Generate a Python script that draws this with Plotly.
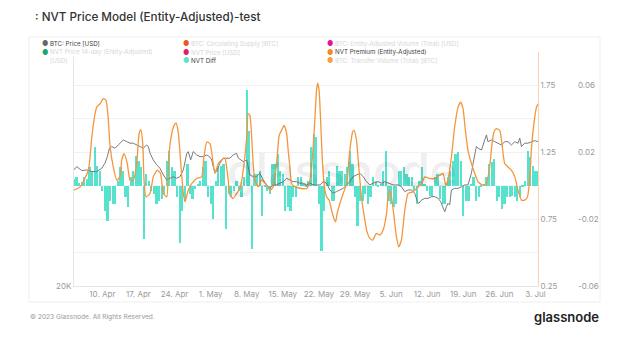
import plotly.graph_objects as go
import pandas as pd

# ---------------- data ----------------
premium_dates = [
    "2023-04-04 12:00", "2023-04-05 16:00", "2023-04-07 07:00", "2023-04-07 23:00", "2023-04-08 14:00",
    "2023-04-08 22:00", "2023-04-09 13:00", "2023-04-10 05:00", "2023-04-10 17:00", "2023-04-11 04:00",
    "2023-04-11 12:00", "2023-04-12 03:00", "2023-04-12 19:00", "2023-04-13 10:00", "2023-04-13 18:00",
    "2023-04-14 05:00", "2023-04-14 20:00", "2023-04-15 09:00", "2023-04-16 00:00", "2023-04-16 16:00",
    "2023-04-17 03:00", "2023-04-17 11:00", "2023-04-17 20:00", "2023-04-18 02:00", "2023-04-18 11:00",
    "2023-04-19 06:00", "2023-04-19 21:00", "2023-04-20 16:00", "2023-04-21 07:00", "2023-04-21 20:00",
    "2023-04-22 12:00", "2023-04-22 21:00", "2023-04-23 11:00", "2023-04-23 22:00", "2023-04-24 07:00",
    "2023-04-24 18:00", "2023-04-25 05:00", "2023-04-25 17:00", "2023-04-26 01:00", "2023-04-26 16:00",
    "2023-04-27 08:00", "2023-04-28 07:00", "2023-04-29 06:00", "2023-04-29 17:00", "2023-04-30 06:00",
    "2023-04-30 21:00", "2023-05-01 10:00", "2023-05-01 20:00", "2023-05-02 12:00", "2023-05-03 11:00",
    "2023-05-03 19:00", "2023-05-04 10:00", "2023-05-04 18:00", "2023-05-05 09:00", "2023-05-06 01:00",
    "2023-05-06 17:00", "2023-05-07 08:00", "2023-05-08 00:00", "2023-05-08 07:00", "2023-05-08 15:00",
    "2023-05-08 23:00", "2023-05-09 06:00", "2023-05-09 14:00", "2023-05-10 06:00", "2023-05-10 21:00",
    "2023-05-11 21:00", "2023-05-12 12:00", "2023-05-13 03:00", "2023-05-13 19:00", "2023-05-14 07:00",
    "2023-05-14 18:00", "2023-05-15 06:00", "2023-05-15 18:00", "2023-05-16 01:00", "2023-05-16 09:00",
    "2023-05-16 17:00", "2023-05-17 08:00", "2023-05-18 15:00", "2023-05-19 15:00", "2023-05-20 06:00",
    "2023-05-20 18:00", "2023-05-21 05:00", "2023-05-21 13:00", "2023-05-21 18:00", "2023-05-22 01:00",
    "2023-05-22 08:00", "2023-05-22 17:00", "2023-05-23 04:00", "2023-05-23 12:00", "2023-05-24 00:00",
    "2023-05-24 11:00", "2023-05-24 22:00", "2023-05-25 06:00", "2023-05-25 13:00", "2023-05-26 02:00",
    "2023-05-26 17:00", "2023-05-27 09:00", "2023-05-28 00:00", "2023-05-28 13:00", "2023-05-28 20:00",
    "2023-05-29 07:00", "2023-05-29 19:00", "2023-05-30 06:00", "2023-05-30 17:00", "2023-05-31 06:00",
    "2023-05-31 21:00", "2023-06-01 10:00", "2023-06-02 04:00", "2023-06-02 20:00", "2023-06-03 11:00",
    "2023-06-04 03:00", "2023-06-04 10:00", "2023-06-04 18:00", "2023-06-05 02:00", "2023-06-05 14:00",
    "2023-06-06 01:00", "2023-06-06 12:00", "2023-06-07 00:00", "2023-06-07 16:00", "2023-06-08 07:00",
    "2023-06-09 06:00", "2023-06-10 06:00", "2023-06-10 22:00", "2023-06-11 13:00", "2023-06-12 12:00",
    "2023-06-13 12:00", "2023-06-14 11:00", "2023-06-15 02:00", "2023-06-15 15:00", "2023-06-16 01:00",
    "2023-06-16 17:00", "2023-06-17 08:00", "2023-06-18 00:00", "2023-06-18 12:00", "2023-06-18 23:00",
    "2023-06-19 10:00", "2023-06-19 22:00", "2023-06-20 14:00", "2023-06-21 06:00", "2023-06-21 21:00",
    "2023-06-22 20:00", "2023-06-23 12:00", "2023-06-24 03:00", "2023-06-24 14:00", "2023-06-24 23:00",
    "2023-06-25 10:00", "2023-06-26 02:00", "2023-06-26 12:00", "2023-06-27 01:00", "2023-06-27 16:00",
    "2023-06-28 08:00", "2023-06-29 00:00", "2023-06-29 15:00", "2023-06-30 07:00", "2023-06-30 22:00",
    "2023-07-01 11:00", "2023-07-01 21:00", "2023-07-02 05:00", "2023-07-02 17:00", "2023-07-03 05:00",
    "2023-07-03 12:00",
]
premium_values = [
    0.966, 0.991, 1.116, 1.364, 1.539, 1.588, 1.613, 1.651, 1.638, 1.489,
    1.29, 1.14, 1.041, 1.066, 1.19, 1.24, 1.166, 1.041, 1.041, 1.166,
    1.39, 1.42, 1.315, 1.041, 0.916, 0.942, 1.066, 1.116, 1.091, 0.942,
    0.916, 1.215, 1.39, 1.451, 1.469, 1.39, 1.166, 0.942, 0.879, 0.966,
    1.016, 1.054, 1.066, 1.215, 1.327, 1.315, 1.19, 1.091, 1.166, 1.203,
    1.203, 1.041, 0.929, 0.904, 0.942, 0.979, 1.116, 1.364, 1.539, 1.526,
    1.364, 1.166, 1.041, 0.991, 1.041, 1.004, 0.966, 0.991, 1.166, 1.377,
    1.414, 1.451, 1.39, 1.265, 1.14, 1.016, 0.991, 0.979, 0.979, 1.041,
    1.215, 1.489, 1.713, 1.767, 1.713, 1.489, 1.166, 0.966, 0.916, 0.892,
    0.817, 0.755, 0.73, 0.793, 0.867, 0.942, 1.016, 1.265, 1.401, 1.414,
    1.34, 1.116, 0.916, 0.793, 0.668, 0.606, 0.593, 0.643, 0.631, 0.668,
    0.793, 0.916, 0.966, 0.916, 0.767, 0.618, 0.543, 0.593, 0.817, 0.942,
    0.954, 0.991, 1.016, 1.066, 1.054, 1.054, 1.078, 1.091, 1.004, 1.041,
    1.215, 1.439, 1.588, 1.625, 1.576, 1.414, 1.265, 1.166, 1.091, 1.028,
    1.004, 1.016, 1.14, 1.315, 1.401, 1.427, 1.414, 1.315, 1.166, 1.14,
    1.116, 1.066, 0.966, 0.892, 0.892, 0.916, 1.041, 1.265, 1.464, 1.588,
    1.613,
]

price_dates = [
    "2023-04-04 12:00", "2023-04-05 01:00", "2023-04-06 00:00", "2023-04-07 00:00", "2023-04-07 23:00",
    "2023-04-08 22:00", "2023-04-09 21:00", "2023-04-10 12:00", "2023-04-10 23:00", "2023-04-11 09:00",
    "2023-04-11 20:00", "2023-04-12 11:00", "2023-04-13 02:00", "2023-04-13 18:00", "2023-04-14 02:00",
    "2023-04-14 18:00", "2023-04-15 09:00", "2023-04-16 00:00", "2023-04-16 16:00", "2023-04-17 07:00",
    "2023-04-17 23:00", "2023-04-18 14:00", "2023-04-18 22:00", "2023-04-19 06:00", "2023-04-19 21:00",
    "2023-04-20 13:00", "2023-04-21 04:00", "2023-04-21 20:00", "2023-04-22 12:00", "2023-04-23 03:00",
    "2023-04-23 18:00", "2023-04-24 10:00", "2023-04-25 01:00", "2023-04-25 17:00", "2023-04-26 09:00",
    "2023-04-26 16:00", "2023-04-27 03:00", "2023-04-27 15:00", "2023-04-28 07:00", "2023-04-28 22:00",
    "2023-04-29 14:00", "2023-04-30 06:00", "2023-04-30 21:00", "2023-05-01 05:00", "2023-05-01 16:00",
    "2023-05-02 04:00", "2023-05-02 19:00", "2023-05-03 11:00", "2023-05-04 03:00", "2023-05-04 18:00",
    "2023-05-05 09:00", "2023-05-06 01:00", "2023-05-06 09:00", "2023-05-06 20:00", "2023-05-07 08:00",
    "2023-05-08 00:00", "2023-05-08 07:00", "2023-05-08 15:00", "2023-05-09 06:00", "2023-05-09 22:00",
    "2023-05-10 13:00", "2023-05-10 21:00", "2023-05-11 05:00", "2023-05-11 21:00", "2023-05-12 12:00",
    "2023-05-13 03:00", "2023-05-13 19:00", "2023-05-14 11:00", "2023-05-15 02:00", "2023-05-15 18:00",
    "2023-05-16 09:00", "2023-05-17 00:00", "2023-05-17 16:00", "2023-05-18 07:00", "2023-05-18 23:00",
    "2023-05-19 15:00", "2023-05-20 06:00", "2023-05-20 21:00", "2023-05-21 13:00", "2023-05-22 05:00",
    "2023-05-22 20:00", "2023-05-23 12:00", "2023-05-24 03:00", "2023-05-24 18:00", "2023-05-25 10:00",
    "2023-05-26 02:00", "2023-05-26 17:00", "2023-05-27 09:00", "2023-05-28 00:00", "2023-05-28 15:00",
    "2023-05-29 07:00", "2023-05-29 23:00", "2023-05-30 14:00", "2023-05-31 06:00", "2023-05-31 21:00",
    "2023-06-01 12:00", "2023-06-02 12:00", "2023-06-03 04:00", "2023-06-03 19:00", "2023-06-04 10:00",
    "2023-06-05 10:00", "2023-06-06 09:00", "2023-06-07 00:00", "2023-06-07 16:00", "2023-06-08 07:00",
    "2023-06-08 23:00", "2023-06-09 14:00", "2023-06-10 03:00", "2023-06-10 09:00", "2023-06-10 22:00",
    "2023-06-11 13:00", "2023-06-12 04:00", "2023-06-12 20:00", "2023-06-13 12:00", "2023-06-14 03:00",
    "2023-06-14 15:00", "2023-06-15 02:00", "2023-06-15 10:00", "2023-06-15 18:00", "2023-06-16 01:00",
    "2023-06-16 09:00", "2023-06-16 17:00", "2023-06-17 08:00", "2023-06-18 00:00", "2023-06-18 16:00",
    "2023-06-19 07:00", "2023-06-19 22:00", "2023-06-20 14:00", "2023-06-20 22:00", "2023-06-21 06:00",
    "2023-06-21 13:00", "2023-06-21 21:00", "2023-06-22 13:00", "2023-06-23 04:00", "2023-06-23 12:00",
    "2023-06-23 19:00", "2023-06-24 11:00", "2023-06-25 03:00", "2023-06-25 18:00", "2023-06-26 10:00",
    "2023-06-27 01:00", "2023-06-27 16:00", "2023-06-28 08:00", "2023-06-29 00:00", "2023-06-29 15:00",
    "2023-06-29 23:00", "2023-06-30 07:00", "2023-06-30 22:00", "2023-07-01 13:00", "2023-07-02 05:00",
    "2023-07-02 21:00", "2023-07-03 12:00",
]
price_values = [
    28210, 28490, 28150, 28210, 28070, 28070, 28350, 28770, 29340, 30080,
    30230, 30080, 30370, 30670, 30830, 30670, 30530, 30530, 30370, 30230,
    30080, 30370, 30230, 29630, 29050, 28630, 28350, 27790, 27380, 27520,
    27650, 27520, 27650, 28210, 29630, 29780, 29050, 29780, 29490, 29340,
    29340, 29490, 29290, 29050, 28210, 28070, 28770, 29210, 29210, 29200,
    29490, 29630, 29210, 29050, 28910, 29050, 28490, 27790, 27650, 27650,
    27930, 27650, 27380, 26980, 26710, 26980, 26980, 27120, 27240, 27520,
    27380, 27240, 27240, 27120, 27120, 26980, 27120, 26980, 26980, 26980,
    27240, 27120, 26580, 26320, 26450, 26580, 26710, 26980, 27240, 27650,
    27790, 27930, 27650, 27240, 26980, 27120, 27240, 27120, 27240, 27120,
    26980, 26980, 26840, 26450, 26580, 26580, 26320, 25670, 25550, 25800,
    25930, 25930, 26060, 26060, 25930, 25670, 25180, 24920, 25300, 25550,
    25420, 26580, 26710, 26710, 26840, 26980, 26980, 27930, 28770, 29630,
    30230, 30080, 29920, 30830, 31290, 30670, 30830, 30670, 30530, 30370,
    30670, 30670, 30370, 30670, 30530, 30990, 30230, 30530, 30530, 30670,
    30760, 30670,
]

# NVT Diff, one value every 12 hours starting 2023-04-04 12:00
diff_start = "2023-04-04 12:00"
diff_values = [
    0.004,
    0.005, 0.0015, 0.002, 0.005, 0.004, 0.011, 0.009, 0.023, 0.012, 0.009,
    -0.003, -0.015, -0.021, -0.009, -0.011, -0.011, 0.003, 0.011, 0.009, -0.007,
    -0.013, 0.005, 0.009, 0.018, 0.015, 0.011, -0.032, 0.007, 0.003, -0.003,
    -0.005, -0.011, -0.009, -0.008, -0.005, 0.015, 0.021, 0.011, 0.009, -0.007,
    -0.034, -0.015, -0.009, 0.013, -0.005, -0.008, -0.002, 0.001, 0.003, 0.011,
    0.015, -0.007, -0.011, -0.020, 0.003, 0.011, 0.012, 0.013, -0.026, -0.005,
    -0.007, -0.003, 0.003, -0.003, -0.007, 0.005, 0.057, 0.033, -0.038, 0.007,
    0.007, 0.009, -0.018, -0.001, -0.003, -0.005, 0.013, 0.013, 0.019, 0.009,
    0.007, -0.015, -0.013, -0.015, -0.007, -0.007, 0.005, 0.005, 0.001, -0.001,
    0.003, 0.023, 0.031, 0.029, -0.011, -0.039, -0.015, 0.005, 0.009, -0.009,
    -0.009, 0.012, 0.009, 0.009, 0.007, 0.011, 0.021, 0.013, -0.007, -0.024,
    -0.009, -0.009, -0.005, -0.011, -0.007, 0.005, 0.003, -0.001, 0.001, 0.009,
    0.021, -0.009, -0.011, -0.013, -0.011, 0.009, 0.009, 0.011, 0.007, 0.005,
    0.005, -0.003, -0.011, 0.003, 0.011, 0.001, -0.003, -0.006, -0.007, 0.005,
    0.007, -0.008, -0.011, -0.011, 0.005, 0.009, 0.015, 0.019, 0.020, 0.015,
    -0.018, -0.009, -0.009, 0.001, 0.005, -0.009, -0.007, -0.001, 0.001, 0.005,
    0.013, 0.014, 0.016, -0.009, -0.007, -0.014, -0.011, -0.007, -0.007, -0.006,
    -0.007, -0.009, -0.007, -0.001, 0.003, 0.021, 0.017, 0.012, 0.009, 0.009,
]
diff_dates = pd.date_range(diff_start, periods=len(diff_values), freq="12h")

x_tick_dates = ["2023-04-10", "2023-04-17", "2023-04-24", "2023-05-01", "2023-05-08",
                "2023-05-15", "2023-05-22", "2023-05-29", "2023-06-05", "2023-06-12",
                "2023-06-19", "2023-06-26", "2023-07-03"]
premium_ticks = [0.25, 0.75, 1.25, 1.75]
diff_grid = [-0.06, -0.04, -0.02, 0.0, 0.02, 0.04, 0.06, 0.08]
diff_labels = ["-0.06", "", "-0.02", "", "0.02", "", "0.06", ""]

# ---------------- layout geometry ----------------
W, H = 636, 341
ML, MR, MT, MB = 74, 36, 52, 55
PW = W - ML - MR
PH = H - MT - MB
def px(x):
    return (x - ML) / PW
def py(y):
    return (H - MB - y) / PH

FONT = "Inter, Roboto, sans-serif"
TICK_COLOR = "#9a9a9a"

fig = go.Figure()

fig.add_trace(go.Bar(
    x=diff_dates, y=diff_values, name="NVT Diff", yaxis="y",
    marker=dict(color="rgb(86,226,205)", line=dict(width=0)),
    width=12 * 3600 * 1000 * 0.85, showlegend=False,
))
fig.add_trace(go.Scatter(
    x=price_dates, y=price_values, name="BTC: Price [USD]", yaxis="y2",
    mode="lines", line=dict(color="#7a7a7a", width=1), showlegend=False,
))
fig.add_trace(go.Scatter(
    x=premium_dates, y=premium_values, name="NVT Premium (Entity-Adjusted)", yaxis="y3",
    mode="lines", line=dict(color="#f4963c", width=1.3, shape="spline", smoothing=0.5),
    showlegend=False,
))

fig.update_layout(
    width=W, height=H,
    margin=dict(l=ML, r=MR, t=MT, b=MB),
    paper_bgcolor="white", plot_bgcolor="white",
    font=dict(family=FONT, color="#444"),
    bargap=0,
    showlegend=False,
    xaxis=dict(
        domain=[0, (538 - ML) / PW],
        range=["2023-04-04 12:00", "2023-07-03 12:00"],
        tickvals=x_tick_dates, tickformat="%-d. %b",
        tickfont=dict(size=8, color=TICK_COLOR),
        showgrid=False, showline=True, linecolor="#e6e6e6", linewidth=1,
        ticks="", ticklen=0, zeroline=False, anchor="y2",
    ),
    yaxis=dict(
        range=[-0.06, 0.08], side="right", anchor="free", position=(577 - ML) / PW,
        tickvals=diff_grid, ticktext=diff_labels,
        tickfont=dict(size=8, color=TICK_COLOR),
        showgrid=True, gridcolor="#f1f1f1", gridwidth=1,
        zeroline=False, showline=False, ticks="",
    ),
    yaxis2=dict(
        type="log", range=[4.30103, 4.60206], side="left", overlaying="y", anchor="x",
        tickvals=[20000], ticktext=["20K"],
        tickfont=dict(size=8, color=TICK_COLOR),
        showgrid=False, zeroline=False, showline=True, linecolor="#e6e6e6", ticks="",
    ),
    yaxis3=dict(
        range=[0.25, 2.0], side="right", overlaying="y", anchor="x",
        tickvals=premium_ticks, ticktext=["0.25", "0.75", "1.25", "1.75"],
        tickfont=dict(size=8, color=TICK_COLOR),
        showgrid=False, zeroline=False, showline=True, linecolor="#fbd3b3", ticks="",
    ),
)

# card border
fig.add_shape(type="rect", xref="paper", yref="paper",
              x0=px(29), x1=px(600), y0=py(302), y1=py(37),
              line=dict(color="#efefef", width=1), fillcolor="rgba(0,0,0,0)", layer="below")

def A(text, x, y, xanchor="left", size=7, color="#444", weight=None, bg=None):
    f = dict(size=size, color=color, family=FONT)
    if weight:
        f["weight"] = weight
    d = dict(text=text, x=px(x), y=py(y), xref="paper", yref="paper",
             xanchor=xanchor, yanchor="middle", showarrow=False, font=f,
             borderpad=0)
    if bg:
        d["bgcolor"] = bg
    return d

ann = []
ann.append(A(": NVT Price Model (Entity-Adjusted)-test", 34, 17, size=11.7, color="#333", weight=500))
ann.append(A("glassnode", 342, 170, xanchor="center", size=46, color="rgba(0,0,0,0.065)", weight=600))
ann.append(A("© 2023 Glassnode. All Rights Reserved.", 29, 317, size=6.6, color="#999"))
ann.append(A("glassnode", 600, 317, xanchor="right", size=13, color="#222", weight=600))

legend_items = [
    (45, 44, "#666666", "BTC: Price [USD]", True),
    (45, 52, "#1aa76c", "NVT Price 14-day (Entity-Adjusted)", False),
    (186, 44, "#f0561f", "BTC: Circulating Supply [BTC]", False),
    (186, 52, "#e8196b", "NVT Price [USD]", False),
    (186, 60, "#5de3cb", "NVT Diff", True),
    (330, 44, "#e6149a", "BTC: Entity-Adjusted Volume (Total) [USD]", False),
    (330, 52, "#f5891f", "NVT Premium (Entity-Adjusted)", True),
    (330, 60, "#f5a04a", "BTC: Transfer Volume (Total) [BTC]", False),
]
for (lx, ly, col, label, active) in legend_items:
    ann.append(A("●", lx, ly, xanchor="center", size=7, color=col))
    ann.append(A(label, lx + 4, ly, size=6.2, color="#444" if active else "#d6d6d6", bg="white"))
ann.append(A("[USD]", 49, 60, size=6.2, color="#d6d6d6", bg="white"))

fig.update_layout(annotations=ann)
fig.write_html("out.html")
